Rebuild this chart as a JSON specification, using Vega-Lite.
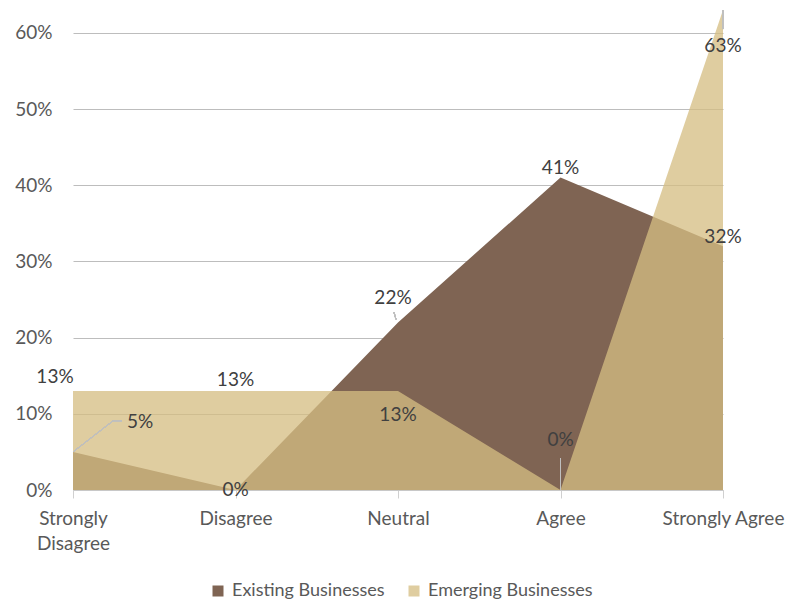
{
  "$schema": "https://vega.github.io/schema/vega-lite/v6.json",
  "autosize": {"type": "none"},
  "width": 650,
  "height": 480,
  "padding": {"left": 73, "top": 10, "right": 62, "bottom": 110},
  "background": "white",
  "config": {
    "font": "Lato",
    "view": {"stroke": null}
  },
  "data": {
    "values": [
      {"category": "Strongly Disagree", "series": "Existing Businesses", "value": 0.05},
      {"category": "Disagree", "series": "Existing Businesses", "value": 0.0},
      {"category": "Neutral", "series": "Existing Businesses", "value": 0.22},
      {"category": "Agree", "series": "Existing Businesses", "value": 0.41},
      {"category": "Strongly Agree", "series": "Existing Businesses", "value": 0.32},
      {"category": "Strongly Disagree", "series": "Emerging Businesses", "value": 0.13},
      {"category": "Disagree", "series": "Emerging Businesses", "value": 0.13},
      {"category": "Neutral", "series": "Emerging Businesses", "value": 0.13},
      {"category": "Agree", "series": "Emerging Businesses", "value": 0.0},
      {"category": "Strongly Agree", "series": "Emerging Businesses", "value": 0.63}
    ]
  },
  "encoding": {
    "x": {
      "field": "category",
      "type": "ordinal",
      "sort": ["Strongly Disagree", "Disagree", "Neutral", "Agree", "Strongly Agree"],
      "scale": {"type": "point", "padding": 0},
      "axis": {
        "title": null,
        "labelAngle": 0,
        "labelFontSize": 19,
        "labelColor": "#595959",
        "labelPadding": 11,
        "labelLineHeight": 25,
        "labelBaseline": "top",
        "labelOverlap": false,
        "labelBound": false,
        "labelFlush": false,
        "labelExpr": "datum.label == 'Strongly Disagree' ? ['Strongly', 'Disagree'] : datum.label",
        "tickSize": 8,
        "tickColor": "#d0d0d0",
        "domainColor": "#c8c8c8",
        "grid": false
      }
    },
    "y": {
      "field": "value",
      "type": "quantitative",
      "scale": {"domain": [0, 0.63], "nice": false, "zero": true},
      "axis": {
        "title": null,
        "values": [0, 0.1, 0.2, 0.3, 0.4, 0.5, 0.6],
        "format": ".0%",
        "labelFontSize": 19,
        "labelColor": "#595959",
        "labelPadding": 21,
        "domain": false,
        "ticks": false,
        "gridColor": "#bdbdbd",
        "gridWidth": 1
      }
    }
  },
  "layer": [
    {
      "transform": [{"filter": "datum.series == 'Existing Businesses'"}],
      "mark": {"type": "area", "interpolate": "linear"},
      "encoding": {
        "color": {
          "field": "series",
          "type": "nominal",
          "scale": {"domain": ["Existing Businesses", "Emerging Businesses"], "range": ["#7f6453", "#d5bd82"]},
          "legend": {
            "title": null,
            "orient": "none",
            "direction": "horizontal",
            "legendX": 136,
            "legendY": 572,
            "symbolType": "square",
            "symbolSize": 121,
            "symbolStrokeWidth": 0,
            "labelFontSize": 18,
            "labelColor": "#595959",
            "labelLimit": 0,
            "columnPadding": 20,
            "labelOffset": 5,
            "encode": {
              "symbols": {"update": {"fillOpacity": {"signal": "datum.value == 'Emerging Businesses' ? 0.76 : 1"}}}
            }
          }
        }
      }
    },
    {
      "transform": [{"filter": "datum.series == 'Emerging Businesses'"}],
      "mark": {"type": "area", "interpolate": "linear", "fillOpacity": 0.76},
      "encoding": {
        "color": {"field": "series", "type": "nominal"}
      }
    },
    {
      "mark": {"type": "rule", "color": "#bfbfbf", "strokeWidth": 1},
      "encoding": {
        "x": {"datum": "Agree"},
        "y": {"datum": 0},
        "y2": {"datum": 0.042}
      }
    },
    {
      "mark": {"type": "rule", "color": "#bfbfbf", "strokeWidth": 1},
      "encoding": {
        "x": {"datum": "Strongly Agree"},
        "y": {"datum": 0.63},
        "y2": {"datum": 0.605}
      }
    },
    {
      "mark": {"type": "rule", "color": "#bfbfbf", "strokeWidth": 1, "x2Offset": 40, "y2Offset": -31},
      "encoding": {
        "x": {"datum": "Strongly Disagree"},
        "y": {"datum": 0.05},
        "x2": {"datum": "Strongly Disagree"},
        "y2": {"datum": 0.05}
      }
    },
    {
      "mark": {"type": "rule", "color": "#bfbfbf", "strokeWidth": 1, "xOffset": 40, "x2Offset": 49, "yOffset": -31, "y2Offset": -31},
      "encoding": {
        "x": {"datum": "Strongly Disagree"},
        "y": {"datum": 0.05},
        "x2": {"datum": "Strongly Disagree"},
        "y2": {"datum": 0.05}
      }
    },
    {
      "mark": {"type": "rule", "color": "#bfbfbf", "strokeWidth": 1, "xOffset": -2, "yOffset": -3, "x2Offset": -4, "y2Offset": -10},
      "encoding": {
        "x": {"datum": "Neutral"},
        "y": {"datum": 0.22},
        "x2": {"datum": "Neutral"},
        "y2": {"datum": 0.22}
      }
    },
    {
      "transform": [{"filter": "datum.series == 'Existing Businesses'"}],
      "mark": {
        "type": "text",
        "fontSize": 19,
        "color": "#404040",
        "align": "center",
        "baseline": "middle",
        "dx": {"expr": "datum.category == 'Strongly Disagree' ? 67 : datum.category == 'Neutral' ? -5 : 0"},
        "dy": {"expr": "datum.category == 'Strongly Disagree' ? -30 : datum.category == 'Neutral' ? -24 : datum.category == 'Agree' ? -10 : datum.category == 'Strongly Agree' ? -9 : 0"}
      },
      "encoding": {
        "text": {"field": "value", "type": "quantitative", "format": ".0%"}
      }
    },
    {
      "transform": [{"filter": "datum.series == 'Emerging Businesses'"}],
      "mark": {
        "type": "text",
        "fontSize": 19,
        "color": "#404040",
        "align": "center",
        "baseline": "middle",
        "dx": {"expr": "datum.category == 'Strongly Disagree' ? -18 : 0"},
        "dy": {"expr": "datum.category == 'Strongly Disagree' ? -14 : datum.category == 'Disagree' ? -11 : datum.category == 'Neutral' ? 24 : datum.category == 'Agree' ? -50 : 36"}
      },
      "encoding": {
        "text": {"field": "value", "type": "quantitative", "format": ".0%"}
      }
    }
  ]
}
